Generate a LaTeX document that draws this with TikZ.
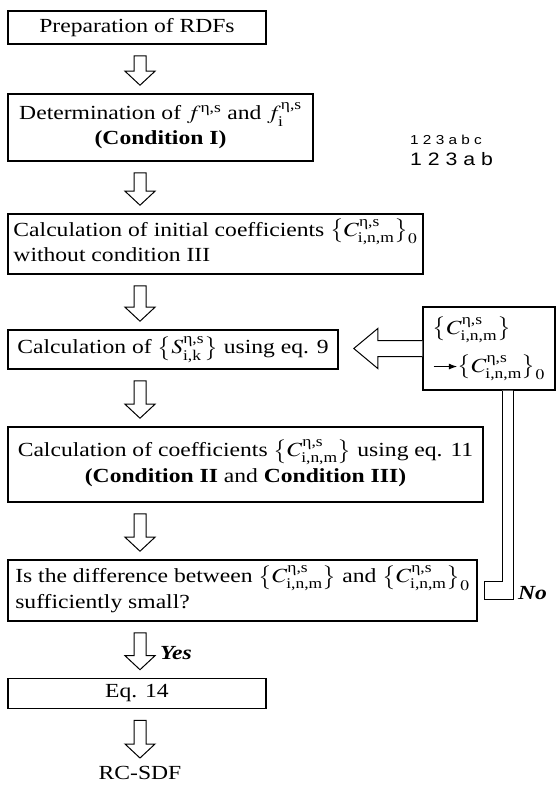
\documentclass[tikz,border=0pt]{standalone}
\usepackage{graphicx}
\usepackage{amsmath}
\usepackage{mathptmx}
\usepackage{fontspec}
\setmainfont{Liberation Serif}
\newfontfamily\labelsans{Liberation Sans}
\usetikzlibrary{calc,arrows.meta}

\newcommand{\wide}[1]{\scalebox{1.18}[1]{#1}}
\newcommand{\es}{\text{η,s}}
\newcommand{\coef}[1]{\bigl\{C^{\es}_{\text{i,n,m}}\bigr\}#1}
% hollow down arrow between two boxes, on the common axis
\newcommand{\hollowdown}[2]{%
  \path (#1.south -| axis) ++(0,11) coordinate (hs) (#2.north -| axis) ++(0,-8) coordinate (ht);
  \draw[hollow] ($(hs)+(-6,0)$) -- ($(ht)+(-6,-14)$) -- ($(ht)+(-15,-14)$) -- (ht) -- ($(ht)+(15,-14)$) -- ($(ht)+(6,-14)$) -- ($(hs)+(6,0)$) -- cycle;}

\begin{document}
\begin{tikzpicture}[x=1pt, y=-1pt, every node/.style={font=\fontsize{20}{25}\selectfont, inner sep=0pt},
	box/.style={draw, line width=1.6pt}, hollow/.style={draw, line width=1pt, fill=white},
	answer/.style={font=\fontsize{20}{25}\selectfont\bfseries\itshape}]
	\useasboundingbox (0,0) rectangle (556,786);
	\coordinate (axis) at (140,0);
	\node[box, minimum width=258, minimum height=33] (rdf) at (137,27.5) {\wide{Preparation of RDFs}};
	\node[box, minimum width=305, minimum height=67] (det) at (160.5,127.5) {\wide{\begin{tabular}{@{}c@{}}Determination of $f^{\es}$ and $f^{\es}_{\text{i}}$\\ \textbf{(Condition I)}\end{tabular}}};
	\node[box, minimum width=415, minimum height=60] (init) at (215.5,244) {\wide{\begin{tabular}{@{}l@{}}Calculation of initial coefficients $\coef{_0}$\\ without condition III\end{tabular}}};
	\node[box, minimum width=330, minimum height=39] (sk) at (173,349.5) {\wide{Calculation of $\bigl\{S^{\es}_{\text{i,k}}\bigr\}$ using eq. 9}};
	\node[box, minimum width=475, minimum height=75] (coef) at (245.5,464.5) {\wide{\begin{tabular}{@{}c@{}}Calculation of coefficients $\coef{}$ using eq. 11\\ \textbf{(Condition II} and \textbf{Condition III)}\end{tabular}}};
	\node[box, minimum width=469, minimum height=61] (diff) at (242.5,590.5) {\wide{\begin{tabular}{@{}l@{}}Is the difference between $\coef{}$ and $\coef{_0}$\\ sufficiently small?\end{tabular}}};
	\node[box, minimum width=258, minimum height=30] (eq) at (137,693.5) {\wide{Eq. 14}};
	\node[anchor=north] (sdf) at (140,766) {\wide{RC-SDF}};
	\node[box, line width=1.3pt, minimum width=132, minimum height=83] (upd) at (489,348.5) {\wide{\begin{tabular}{@{}l@{}}$\coef{}$\\[13pt] \tikz[baseline=-0.6ex]\draw[line width=1pt,-{Latex[length=7pt,width=6pt]}] (0pt,0pt) -- (20pt,0pt);$\coef{_0}$\end{tabular}}};
	\node[answer, anchor=west] (yes) at (160,653) {\wide{Yes}};
	\node[answer, anchor=west] (no) at (518,593) {\wide{No}};
	\node[anchor=west, font=\labelsans\fontsize{13}{15}\selectfont] (sm) at (410,140) {\wide{1 2 3 a b c}};
	\node[anchor=west, font=\labelsans\fontsize{18}{20}\selectfont] (lg) at (410,159) {\wide{1 2 3 a b}};
	\hollowdown{rdf}{det} \hollowdown{det}{init} \hollowdown{init}{sk} \hollowdown{sk}{coef}
	\hollowdown{coef}{diff} \hollowdown{diff}{eq} \hollowdown{eq}{sdf}
	\coordinate (ls) at (upd.west); \coordinate (lt) at ($(sk.east |- upd.west)+(15,0)$);
	\draw[hollow] ($(ls)+(0,-8)$) -- ($(lt)+(24,-8)$) -- ($(lt)+(24,-20)$) -- (lt) -- ($(lt)+(24,20)$) -- ($(lt)+(24,8)$) -- ($(ls)+(0,8)$);
	\draw[hollow] ($(upd.south)+(13,0)$) |- ($(diff.east)+(7,-9)$) -- ($(diff.east)+(7,9)$) -| ($(upd.south)+(24,0)$);
\end{tikzpicture}
\end{document}
